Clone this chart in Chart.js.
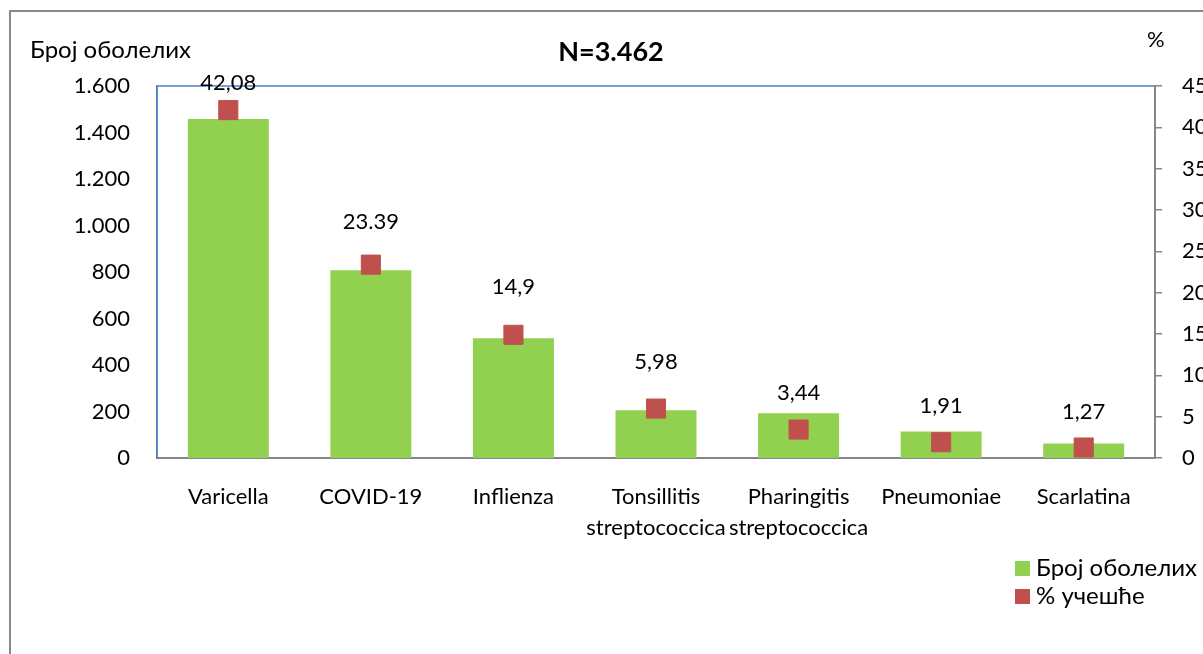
<!DOCTYPE html>
<html>
<head>
<meta charset="utf-8">
<script src="https://cdn.jsdelivr.net/npm/chart.js@4"></script>
<style>
  body { margin: 0; overflow: hidden; background: #fff; }
  canvas { display: block; }
</style>
</head>
<body>
<canvas id="chart" width="1240" height="654"></canvas>
<script>
// data
const categories = ['Varicella', 'COVID-19', 'Inflienza', ['Tonsillitis', 'streptococcica'], ['Pharingitis', 'streptococcica'], 'Pneumoniae', 'Scarlatina'];
const cases = [1458, 807, 515, 205, 192, 114, 62];
const shares = [42.08, 23.39, 14.9, 5.98, 3.44, 1.91, 1.27];
const shareLabels = ['42,08', '23.39', '14,9', '5,98', '3,44', '1,91', '1,27'];
const leftTickLabels = ['0', '200', '400', '600', '800', '1.000', '1.200', '1.400', '1.600'];
const rightTickLabels = ['0', '5', '10', '15', '20', '25', '30', '35', '40', '45'];

const FONT = 'Lato, "Noto Sans", sans-serif';
const GREEN = '#92D050';
const RED = '#C0504D';

// frame, titles, value labels and legend
const extras = {
    id: 'extras',
    beforeDraw(chart) {
        const ctx = chart.ctx;
        const a = chart.chartArea;
        ctx.save();
        ctx.strokeStyle = '#898989';
        ctx.lineWidth = 2;
        ctx.beginPath();
        ctx.moveTo(10, chart.height);
        ctx.lineTo(10, 11);
        ctx.lineTo(chart.width, 11);
        ctx.stroke();
        ctx.strokeStyle = '#4F81BD';
        ctx.lineWidth = 1.5;
        ctx.strokeRect(a.left, a.top, a.right - a.left, a.bottom - a.top);
        ctx.restore();
    },
    afterDatasetsDraw(chart, args, opts) {
        const ctx = chart.ctx;
        const meta = chart.getDatasetMeta(1);
        ctx.save();
        ctx.font = '22px ' + FONT;
        ctx.fillStyle = '#000';
        ctx.textAlign = 'center';
        ctx.textBaseline = 'middle';
        meta.data.forEach(function (pt, i) {
            ctx.fillText(shareLabels[i], pt.x, pt.y - opts.offsets[i]);
        });
        ctx.restore();
    },
    afterDraw(chart) {
        const ctx = chart.ctx;
        ctx.save();
        ctx.fillStyle = '#000';
        ctx.textBaseline = 'middle';

        ctx.font = 'bold 27px ' + FONT;
        ctx.textAlign = 'center';
        ctx.fillText('N=3.462', 611, 52);

        ctx.font = '24px ' + FONT;
        ctx.textAlign = 'left';
        ctx.fillText('Број оболелих', 30, 50);
        ctx.font = '22px ' + FONT;
        ctx.fillText('%', 1147, 40);

        // legend
        ctx.font = '24px ' + FONT;
        chart.data.datasets.forEach(function (ds, i) {
            ctx.fillStyle = ds.legendColor;
            ctx.fillRect(1015, 561 + i * 28, 15, 15);
            ctx.fillStyle = '#000';
            ctx.fillText(ds.label, 1036, 568 + i * 28);
        });
        ctx.restore();
    }
};

const ctx = document.getElementById('chart').getContext('2d');
const chart = new Chart(ctx, {
    data: {
        labels: categories,
        datasets: [{
            type: 'bar',
            label: 'Број оболелих',
            data: cases,
            backgroundColor: GREEN,
            legendColor: GREEN,
            yAxisID: 'y',
            barPercentage: 0.568,
            categoryPercentage: 1,
            order: 1
        }, {
            type: 'line',
            label: '% учешће',
            data: shares,
            yAxisID: 'y1',
            showLine: false,
            pointStyle: 'rect',
            pointRadius: 13.5,
            pointBorderWidth: 1,
            pointBackgroundColor: RED,
            pointBorderColor: RED,
            legendColor: RED,
            order: 0
        }]
    },
    options: {
        responsive: false,
        animation: false,
        events: [],
        layout: { padding: { top: 86, left: 0, right: 0, bottom: 0 } },
        plugins: {
            legend: { display: false },
            title: { display: false },
            tooltip: { enabled: false },
            extras: { offsets: [27, 43, 48, 47, 37, 36, 36] }
        },
        scales: {
            x: {
                grid: { display: false },
                border: { color: '#868686', width: 2 },
                ticks: {
                    color: '#000',
                    font: { family: FONT, size: 22, lineHeight: 1.4 },
                    padding: 16,
                    maxRotation: 0,
                    autoSkip: false
                },
                afterFit: function (s) { s.height = 196; }
            },
            y: {
                position: 'left',
                min: 0,
                max: 1600,
                grid: { display: false, drawTicks: false },
                border: { color: '#4F81BD', width: 1.5 },
                ticks: {
                    stepSize: 200,
                    color: '#000',
                    font: { family: FONT, size: 22 },
                    padding: 27,
                    callback: function (v, i) { return leftTickLabels[i]; }
                },
                afterFit: function (s) { s.width = 157; }
            },
            y1: {
                position: 'right',
                min: 0,
                max: 45,
                grid: { display: true, drawOnChartArea: false, drawTicks: true, tickLength: 7, color: '#868686', lineWidth: 1.5 },
                border: { color: '#868686', width: 2 },
                ticks: {
                    stepSize: 5,
                    color: '#000',
                    font: { family: FONT, size: 22 },
                    padding: 20,
                    callback: function (v, i) { return rightTickLabels[i]; }
                },
                afterFit: function (s) { s.width = 85; }
            }
        }
    },
    plugins: [extras]
});
</script>
</body>
</html>
